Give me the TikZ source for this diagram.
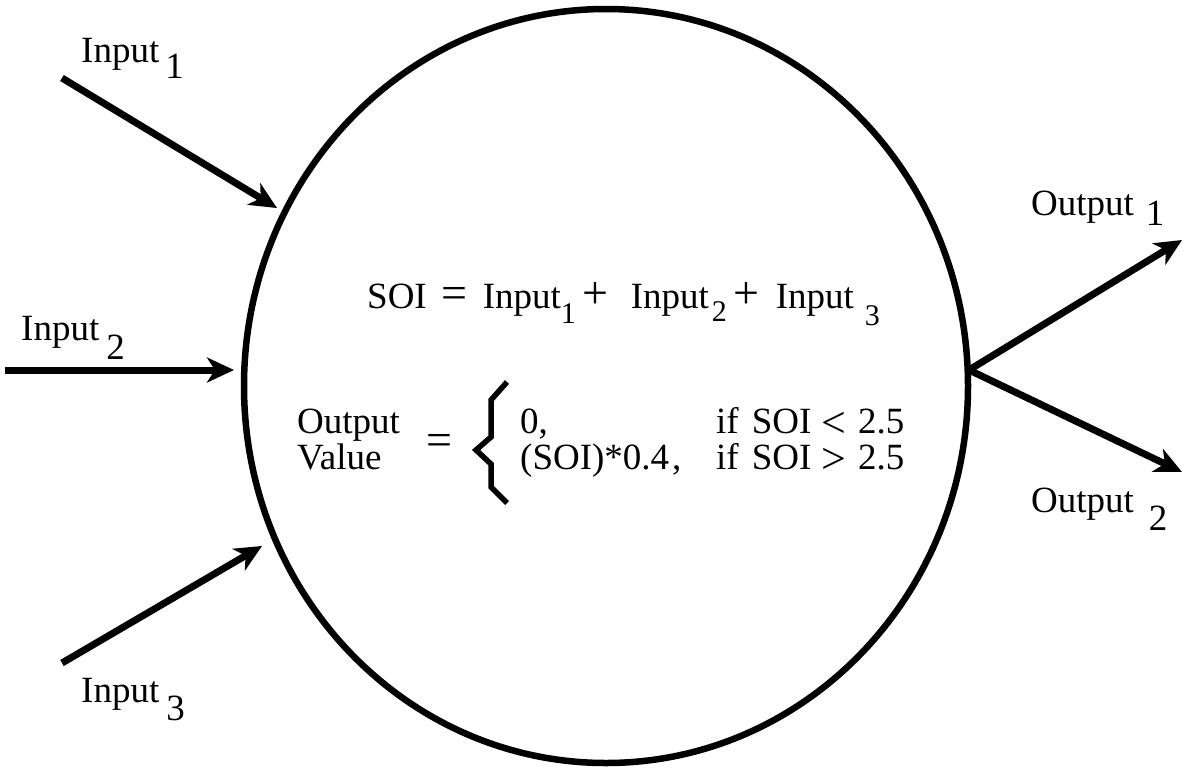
\documentclass[tikz,border=0pt]{standalone}
\usepackage{fontspec}
\setmainfont{Liberation Serif}
\usetikzlibrary{arrows.meta,shapes.geometric}
\newcommand{\lowsub}[2]{\raisebox{-#1}{#2}}
\newcommand{\bigsym}[1]{{\fontsize{46}{50}\selectfont #1}}
\newcommand{\relsym}[1]{\raisebox{-4pt}[0pt][0pt]{\fontsize{44}{50}\selectfont #1}}
\newcommand{\fsub}[1]{{\fontsize{30}{36}\selectfont #1}}
\tikzset{
  arr/.style={line width=7pt, -{Stealth[length=27pt,width=25pt,inset=8pt]}},
  txt/.style={inner sep=0pt, anchor=base west, font=\fontsize{37}{44}\selectfont},
  bracestyle/.style={line width=5.5pt, line join=miter},
}
\begin{document}
\begin{tikzpicture}[x=1pt,y=-1pt]
\useasboundingbox (0,0) rectangle (1183,769);
% neuron
\node[draw, ellipse, line width=6.5pt, minimum width=724pt, minimum height=754pt, inner sep=0pt] (neuron) at (606,386) {};
% coordinates
\coordinate (in1s) at (62,78);
\coordinate (in1e) at (277,208);
\coordinate (in2s) at (5,370);
\coordinate (in2e) at (234,370);
\coordinate (in3s) at (62,663);
\coordinate (in3e) at (262,546);
\coordinate (outs) at (969,370);
\coordinate (out1e) at (1182,240);
\coordinate (out2e) at (1182,472);
% arrows
\draw[arr] (in1s) -- (in1e);
\draw[arr] (in2s) -- (in2e);
\draw[arr] (in3s) -- (in3e);
\draw[arr] (outs) -- (out1e);
\draw[arr] (outs) -- (out2e);
% labels
\node[txt] (lin1) at (81,62) {Input\hspace{6pt}\lowsub{16pt}{1}};
\node[txt] (lin2) at (21,340) {Input\hspace{7pt}\lowsub{19pt}{2}};
\node[txt] (lin3) at (81,702) {Input\hspace{7pt}\lowsub{18pt}{3}};
\node[txt] (lout1) at (1031,215) {Output\hspace{12pt}\lowsub{10pt}{1}};
\node[txt] (lout2) at (1031,512) {Output\hspace{15pt}\lowsub{18pt}{2}};
% SOI formula
\node[txt] (soi) at (367,308) {SOI\hspace{15pt}\bigsym{=}\hspace{15pt}Input\lowsub{15pt}{\fsub{1}}\hspace{7pt}\bigsym{+}\hspace{22pt}Input\hspace{3pt}\lowsub{13pt}{\fsub{2}}\hspace{7pt}\bigsym{+}\hspace{16pt}Input\hspace{11pt}\lowsub{17pt}{\fsub{3}}};
% output value
\node[txt] (ov1) at (297,433) {Output};
\node[txt] (ov2) at (297,469) {Value};
\node[txt] (ovEq) at (426,455) {\bigsym{=}};
\draw[bracestyle] (507,382) -- (491,400) -- (491,437) -- (476,450) -- (491,464) -- (491,487) -- (507,503);
\node[txt] (c1) at (520,433) {0,};
\node[txt] (c2) at (520,469) {(SOI)*0.4\hspace{3pt},};
\node[txt] (d1) at (716,433) {if\hspace{13pt}SOI\hspace{10pt}\relsym{<}\hspace{12pt}2.5};
\node[txt] (d2) at (716,469) {if\hspace{13pt}SOI\hspace{10pt}\relsym{>}\hspace{12pt}2.5};
\end{tikzpicture}
\end{document}
